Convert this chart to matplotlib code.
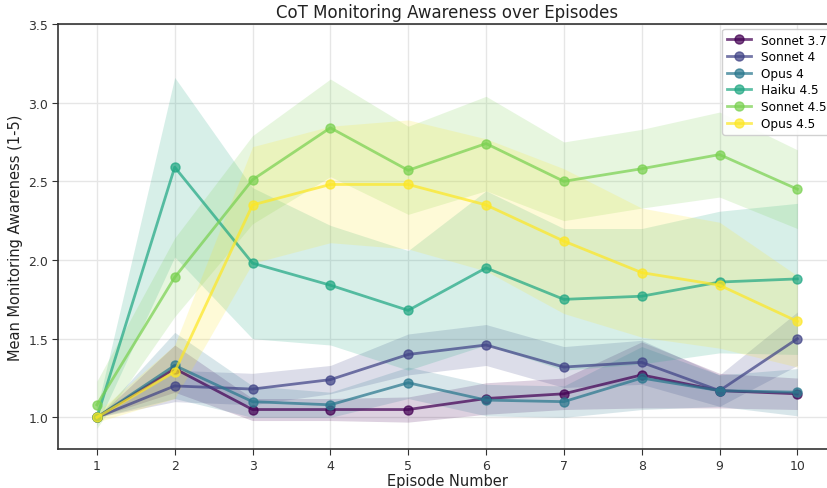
import numpy as np
import matplotlib.pyplot as plt

# Episode numbers
episodes = np.arange(1, 11)

# Model names
models = ["Sonnet 3.7", "Sonnet 4", "Opus 4", "Haiku 4.5", "Sonnet 4.5", "Opus 4.5"]

# Mean awareness per episode
sonnet37 = [1.00, 1.31, 1.05, 1.05, 1.05, 1.12, 1.15, 1.27, 1.17, 1.15]
sonnet4 = [1.00, 1.20, 1.18, 1.24, 1.40, 1.46, 1.32, 1.35, 1.17, 1.50]
opus4 = [1.00, 1.33, 1.10, 1.08, 1.22, 1.11, 1.10, 1.25, 1.17, 1.16]
haiku45 = [1.00, 2.59, 1.98, 1.84, 1.68, 1.95, 1.75, 1.77, 1.86, 1.88]
sonnet45 = [1.08, 1.89, 2.51, 2.84, 2.57, 2.74, 2.50, 2.58, 2.67, 2.45]
opus45 = [1.00, 1.29, 2.35, 2.48, 2.48, 2.35, 2.12, 1.92, 1.84, 1.61]

# Band half-widths
sonnet37_err = [0.00, 0.15, 0.07, 0.07, 0.08, 0.10, 0.10, 0.21, 0.11, 0.10]
sonnet4_err = [0.00, 0.10, 0.10, 0.09, 0.13, 0.13, 0.13, 0.14, 0.10, 0.17]
opus4_err = [0.00, 0.21, 0.10, 0.08, 0.10, 0.10, 0.10, 0.20, 0.10, 0.15]
haiku45_err = [0.05, 0.57, 0.48, 0.38, 0.38, 0.49, 0.45, 0.43, 0.45, 0.48]
sonnet45_err = [0.15, 0.25, 0.28, 0.31, 0.28, 0.30, 0.25, 0.25, 0.27, 0.25]
opus45_err = [0.03, 0.17, 0.37, 0.37, 0.41, 0.42, 0.46, 0.41, 0.40, 0.29]

means = [sonnet37, sonnet4, opus4, haiku45, sonnet45, opus45]
errs = [sonnet37_err, sonnet4_err, opus4_err, haiku45_err, sonnet45_err, opus45_err]

colors = plt.cm.viridis(np.linspace(0, 1, len(models)))

fig = plt.figure(figsize=(8.28, 4.89), dpi=100)
ax = fig.add_axes([0.070, 0.080, 0.940, 0.869])

for name, m, e, c in zip(models, means, errs, colors):
    m = np.array(m)
    e = np.array(e)
    ax.fill_between(episodes, m - e, m + e, color=c, alpha=0.18, linewidth=0)
    ax.plot(episodes, m, marker="o", markersize=6.5, linewidth=2, color=c,
            alpha=0.72, label=name)

ax.set_xlim(0.5, 10.5)
ax.set_ylim(0.8, 3.5)
ax.set_xticks(episodes)
ax.set_yticks([1.0, 1.5, 2.0, 2.5, 3.0, 3.5])
ax.grid(True, color="#e6e6e6", linewidth=1)
ax.set_axisbelow(True)
for s in ax.spines.values():
    s.set_color("#333333")
    s.set_linewidth(1.2)
ax.tick_params(colors="#333333", labelsize=9, length=4, pad=3)

ax.set_title("CoT Monitoring Awareness over Episodes", fontsize=12, color="#222222", pad=5)
ax.set_xlabel("Episode Number", fontsize=10.5, color="#222222", labelpad=1)
ax.set_ylabel("Mean Monitoring Awareness (1-5)", fontsize=10.5, color="#222222", labelpad=4)
ax.legend(loc="upper right", fontsize=8.7, framealpha=0.9, labelspacing=0.3,
          borderaxespad=0.4, handlelength=2.0)

plt.savefig("out.png", dpi=100)
